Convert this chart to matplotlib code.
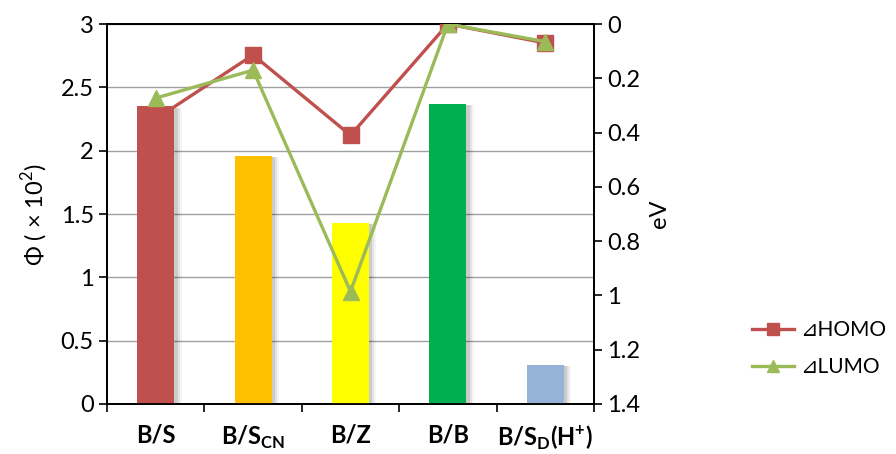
import matplotlib
matplotlib.use("Agg")
import matplotlib.pyplot as plt
import numpy as np

plt.rcParams['font.family'] = ['Lato', 'DejaVu Sans']

categories = ["B/S", r"B/S$_{\mathregular{CN}}$", "B/Z", "B/B", r"B/S$_{\mathregular{D}}$(H$^{\mathregular{+}}$)"]
phi = [2.35, 1.96, 1.43, 2.37, 0.31]
bar_colors = ["#C0504D", "#FFC000", "#FFFF00", "#00B050", "#95B3D7"]
homo = [0.35, 0.114, 0.41, 0.0, 0.07]
lumo = [0.273, 0.17, 0.986, 0.0, 0.065]

fig = plt.figure(figsize=(8.96, 4.54), dpi=100)
ax = fig.add_axes([107/896, 1-404/454, (594-107)/896, (404-24)/454])
x = np.arange(len(categories))
w = 0.38
# shadows
for dx, a in [(0.035, 0.10), (0.055, 0.07), (0.075, 0.04)]:
    ax.bar(x + dx, [p - 0.01 for p in phi], width=w, color="#000000", alpha=a,
           linewidth=0, zorder=2)
ax.bar(x, phi, width=w, color=bar_colors, zorder=3)
ax.set_xlim(-0.5, len(categories) - 0.5)
ax.set_ylim(0, 3)
ax.set_yticks([0, 0.5, 1, 1.5, 2, 2.5, 3])
ax.set_yticklabels(["0", "0.5", "1", "1.5", "2", "2.5", "3"])
ax.yaxis.grid(True, color="#A0A0A0", linewidth=1, zorder=0)
ax.set_axisbelow(True)
ax.set_xticks(np.arange(-0.5, len(categories), 1.0))
ax.set_xticklabels([])
ax.set_xticks(x, minor=True)
ax.set_xticklabels(categories, minor=True, fontsize=17, fontweight="bold")
ax.tick_params(axis="x", which="minor", length=0, pad=14)
ax.tick_params(axis="x", which="major", length=6, width=1.2, direction="out")
ax.tick_params(axis="y", length=6, width=1.2, labelsize=17, direction="out")
ax.set_ylabel(r"Φ ( × 10$^{\mathregular{2}}$)", fontsize=17, labelpad=8)
for s in ax.spines.values():
    s.set_linewidth(1.3)

ax2 = ax.twinx()
ax2.plot(x, homo, color="#C0504D", linewidth=2.4, marker="s", markersize=11,
         label="⊿HOMO", zorder=5)
ax2.plot(x, lumo, color="#9BBB59", linewidth=2.4, marker="^", markersize=12,
         label="⊿LUMO", zorder=6)
ax2.set_ylim(1.4, 0)
ax2.set_yticks([0, 0.2, 0.4, 0.6, 0.8, 1.0, 1.2, 1.4])
ax2.set_yticklabels(["0", "0.2", "0.4", "0.6", "0.8", "1", "1.2", "1.4"])
ax2.tick_params(axis="y", length=6, width=1.2, labelsize=17, direction="out")
ax2.set_ylabel("eV", fontsize=17, labelpad=6)
for s in ax2.spines.values():
    s.set_linewidth(1.3)

fig.legend(loc="upper left", bbox_to_anchor=(748/896, 1-316/454), frameon=False,
           fontsize=15, handlelength=2.0, labelspacing=0.8, handletextpad=0.3,
           borderaxespad=0, borderpad=0.2, markerscale=0.75)

fig.savefig("out.png", dpi=100)
